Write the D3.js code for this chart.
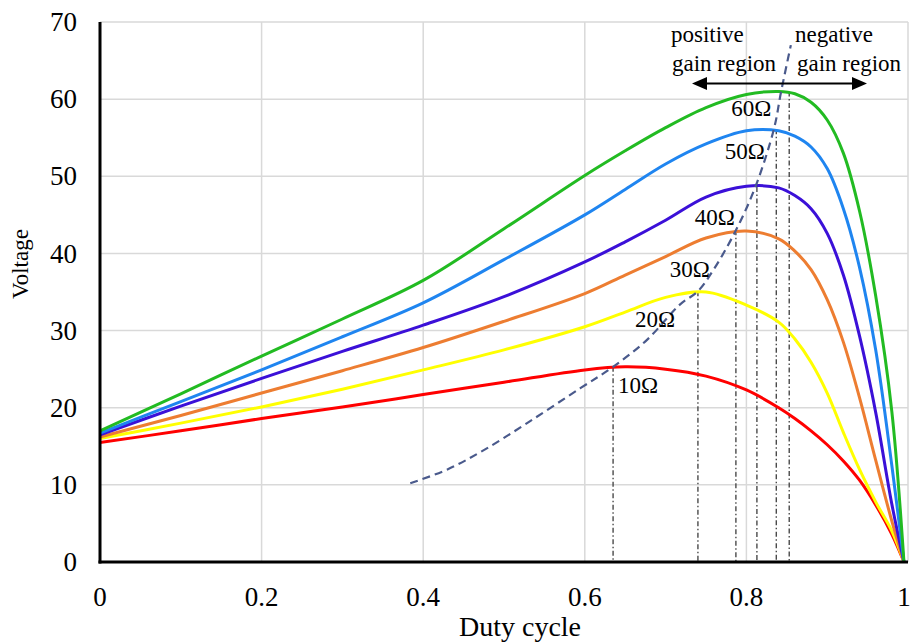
<!DOCTYPE html>
<html>
<head>
<meta charset="utf-8">
<script src="https://cdn.jsdelivr.net/npm/d3@7"></script>
<style>
  html, body { margin: 0; padding: 0; background: #fff; }
  svg { display: block; }
  text { font-family: "Liberation Serif", "Times New Roman", serif; fill: #000; }
</style>
</head>
<body>
<svg id="chart" width="910" height="644"></svg>
<script>
// Output voltage versus duty cycle for several load resistances
const duty = [0, 0.1, 0.2, 0.3, 0.4, 0.5, 0.6, 0.65, 0.7, 0.75, 0.8, 0.84, 0.86, 0.88, 0.9, 0.92, 0.94, 0.96, 0.98, 0.995];

const v10 = [15.5, 17.0, 18.6, 20.1, 21.7, 23.3, 24.9, 25.3, 25.0, 24.1, 22.3, 20.0, 18.6, 17.0, 15.2, 13.1, 10.6, 7.4, 3.6, 0];
const v20 = [16.0, 18.0, 20.1, 22.4, 24.9, 27.5, 30.5, 32.4, 34.3, 35.0, 33.3, 31.1, 28.9, 25.9, 21.9, 16.8, 12.0, 7.8, 4.0, 0];
const v30 = [16.2, 19.0, 21.9, 24.8, 27.8, 31.2, 34.8, 37.2, 39.6, 42.0, 42.9, 41.9, 40.3, 37.9, 34.0, 28.5, 21.3, 13.2, 5.3, 0];
const v40 = [16.5, 20.2, 23.8, 27.3, 30.7, 34.4, 38.9, 41.5, 44.3, 47.3, 48.7, 48.5, 47.5, 45.8, 42.6, 37.2, 29.3, 19.4, 7.5, 0];
const v50 = [16.7, 20.8, 24.9, 29.2, 33.6, 39.2, 45.0, 48.3, 51.6, 54.2, 55.9, 55.9, 55.2, 53.8, 51.0, 45.8, 38.2, 27.5, 12.5, 0];
const v60 = [17.0, 21.8, 26.7, 31.5, 36.5, 43.2, 50.1, 53.3, 56.3, 58.9, 60.6, 61.0, 60.7, 59.6, 57.3, 53.0, 45.5, 34.5, 19.5, 0];

const loadNames = ["10Ω", "20Ω", "30Ω", "40Ω", "50Ω", "60Ω"];
const loadSeries = [v10, v20, v30, v40, v50, v60];
const loadColors = ["#ff0000", "#ffff00", "#ed7d31", "#3b10d8", "#1f85f0", "#22bb22"];

// Locus of the maximum-voltage points (boundary between the gain regions)
const boundaryDuty = [0.384, 0.43, 0.475, 0.53, 0.594, 0.635, 0.677, 0.718, 0.74, 0.76, 0.787, 0.811, 0.834, 0.843, 0.855];
const boundaryVolt = [10.2, 12.0, 14.5, 18.1, 22.5, 25.3, 28.8, 33.4, 35.1, 38.0, 43.0, 48.6, 56.1, 61.0, 67.0];

// Duty cycle at each peak, dropped down to the axis
const peakDuty = [0.635, 0.740, 0.787, 0.813, 0.837, 0.853];
const peakVolt = [25.3, 35.1, 43.0, 48.6, 56.1, 61.0];

const xTicks = [0, 0.2, 0.4, 0.6, 0.8, 1];
const yTicks = [0, 10, 20, 30, 40, 50, 60, 70];

// ---- layout ----
const svg = d3.select("#chart");
const x = d3.scaleLinear().domain([0, 1]).range([100, 908]);
const y = d3.scaleLinear().domain([0, 70]).range([562, 22]);

// gridlines
const grid = svg.append("g").attr("stroke", "#d9d9d9").attr("stroke-width", 1.5);
grid.selectAll("line.h").data(yTicks.slice(1)).join("line")
  .attr("x1", x(0)).attr("x2", x(1))
  .attr("y1", d => y(d)).attr("y2", d => y(d));
grid.selectAll("line.v").data(xTicks.slice(1)).join("line")
  .attr("x1", d => x(d)).attr("x2", d => x(d))
  .attr("y1", y(0)).attr("y2", y(70));

// dash-dot drop lines from each peak
svg.append("g").selectAll("line").data(peakDuty).join("line")
  .attr("x1", d => x(d)).attr("x2", d => x(d))
  .attr("y1", (d, i) => y(peakVolt[i])).attr("y2", y(0))
  .attr("stroke", "#4a4a4a").attr("stroke-width", 1.4)
  .attr("stroke-dasharray", "5,2.5,1.5,2.5");

// voltage curves
const line = d3.line()
  .x(d => x(d[0])).y(d => y(d[1]))
  .curve(d3.curveCatmullRom.alpha(0.5));

svg.append("g").selectAll("path").data(loadSeries).join("path")
  .attr("d", s => line(duty.map((d, i) => [d, s[i]])))
  .attr("fill", "none")
  .attr("stroke", (s, i) => loadColors[i])
  .attr("stroke-width", 3)
  .attr("stroke-linejoin", "round");

// boundary curve
svg.append("path")
  .attr("d", line(boundaryDuty.map((d, i) => [d, boundaryVolt[i]])))
  .attr("fill", "none")
  .attr("stroke", "#4a5a8c")
  .attr("stroke-width", 2.2)
  .attr("stroke-dasharray", "8,5");

// load labels
const labelPos = [[0.666, 21.9], [0.687, 30.5], [0.730, 36.9], [0.761, 43.7], [0.798, 52.2], [0.806, 57.8]];
svg.append("g").selectAll("text").data(loadNames).join("text")
  .attr("x", (d, i) => x(labelPos[i][0]))
  .attr("y", (d, i) => y(labelPos[i][1]))
  .attr("text-anchor", "middle")
  .attr("font-size", 23)
  .text(d => d);

// axes lines
svg.append("line")
  .attr("x1", x(0)).attr("x2", x(0)).attr("y1", y(70)).attr("y2", y(0) + 1.5)
  .attr("stroke", "#000").attr("stroke-width", 3);
svg.append("line")
  .attr("x1", x(0) - 1.5).attr("x2", x(1)).attr("y1", y(0)).attr("y2", y(0))
  .attr("stroke", "#000").attr("stroke-width", 3);

// tick labels
svg.append("g").selectAll("text").data(yTicks).join("text")
  .attr("x", 77).attr("y", d => y(d))
  .attr("dy", "0.34em")
  .attr("text-anchor", "end")
  .attr("font-size", 27)
  .text(d => d);
svg.append("g").selectAll("text").data(xTicks).join("text")
  .attr("x", d => Math.min(x(d), 904)).attr("y", 606)
  .attr("text-anchor", "middle")
  .attr("font-size", 27)
  .text(d => d);

// axis titles
svg.append("text")
  .attr("x", 520).attr("y", 636)
  .attr("text-anchor", "middle")
  .attr("font-size", 28)
  .text("Duty cycle");
svg.append("text")
  .attr("transform", "translate(28,264) rotate(-90)")
  .attr("text-anchor", "middle")
  .attr("font-size", 23)
  .text("Voltage");

// gain-region annotation
const ann = svg.append("g").attr("font-size", 23);
ann.append("text").attr("x", 671).attr("y", 42).text("positive");
ann.append("text").attr("x", 672).attr("y", 71).text("gain region");
ann.append("text").attr("x", 795).attr("y", 42).text("negative");
ann.append("text").attr("x", 797).attr("y", 71).text("gain region");

const arrowY = 83.5, ax0 = 692, ax1 = 867, head = 15, half = 6.5;
svg.append("line")
  .attr("x1", ax0 + head - 2).attr("x2", ax1 - head + 2)
  .attr("y1", arrowY).attr("y2", arrowY)
  .attr("stroke", "#000").attr("stroke-width", 2.2);
svg.append("path")
  .attr("d", `M${ax0},${arrowY} L${ax0 + head},${arrowY - half} L${ax0 + head},${arrowY + half} Z`)
  .attr("fill", "#000");
svg.append("path")
  .attr("d", `M${ax1},${arrowY} L${ax1 - head},${arrowY - half} L${ax1 - head},${arrowY + half} Z`)
  .attr("fill", "#000");
</script>
</body>
</html>
